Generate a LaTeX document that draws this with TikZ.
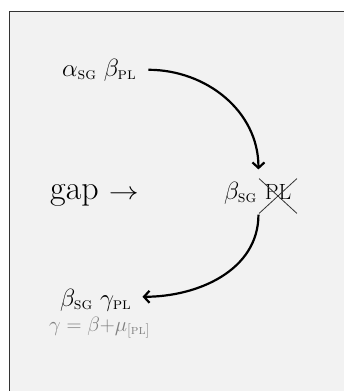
\documentclass[tikz,border=0pt]{standalone}
\usepackage{amsmath}
\usepackage{graphicx}
\usetikzlibrary{arrows.meta,shapes.misc,fit}
\begin{document}
\begin{tikzpicture}[x=1pt,y=-1pt,
  txt/.style={inner sep=0pt, font=\fontsize{24}{29}\selectfont},
  big/.style={inner sep=0pt, font=\fontsize{34}{40}\selectfont},
  note/.style={inner sep=0pt, text=black!50, font=\fontsize{19.5}{24}\selectfont},
  arr/.style={line width=2.2pt, -{Straight Barb[length=5.5pt,width=12pt]}},
  crossed/.style={cross out, draw=black!80, line width=0.8pt, inner sep=0pt,
    minimum width=37pt, minimum height=34pt, text depth=9pt,
    font=\fontsize{22}{26}\selectfont}]
\useasboundingbox (0,0) rectangle (344,391);
\clip (0,0) rectangle (344,391);
\draw[draw=black!80, line width=1.5pt, fill=black!5] (9.5,11.5) rectangle (400,450);

\node[txt, anchor=base west] (A) at (62,76) {$\alpha_{\textsc{sg}}\ \beta_{\textsc{pl}}$};
\node[big, anchor=base west] (G) at (50,199) {gap\hspace{0.3em}\scalebox{1.2}[1]{$\rightarrow$}};
\node[txt, anchor=base west] (b) at (224,199) {$\beta_{\textsc{sg}}$};
\node[crossed] (pl) at (278,196) {PL};
\node[fit=(b)(pl), inner sep=0pt] (B) {};
\node[txt, anchor=base west] (C) at (60,306) {$\beta_{\textsc{sg}}\ \gamma_{\textsc{pl}}$};
\node[note, anchor=base west] (D) at (49,331) {$\gamma = \beta{+}\mu_{[\textsc{pl}]}$};

\draw[arr] ([xshift=12pt]A.east) to[out=0,in=90] ([xshift=-2pt,yshift=9pt]B.north);
\draw[arr] ([xshift=-2pt,yshift=-1pt]B.south) to[out=-90,in=0] ([xshift=11pt,yshift=3pt]C.east);
\end{tikzpicture}
\end{document}
